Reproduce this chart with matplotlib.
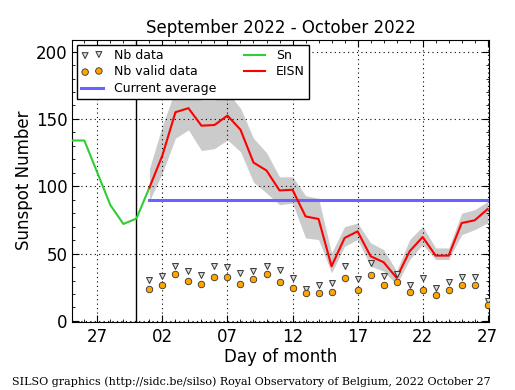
import matplotlib
matplotlib.use("Agg")
import matplotlib.pyplot as plt
from matplotlib.ticker import MultipleLocator, FixedLocator

# Day index: Oct d -> d, Sep d -> d - 30
sn_days = [-5, -4, -3, -2, -1, 0, 1]
sn_vals = [134, 134, 110, 86, 72, 76, 99]

eisn_days = list(range(1, 28))
eisn_vals = [99, 123, 155, 158, 145, 145.5, 152.5, 142, 117.6, 111.7, 96.9, 97.4,
             77.6, 75.7, 40.6, 61.6, 66.5, 48, 43.6, 32, 51.7, 62.3, 48.5, 48.5,
             72.7, 74.7, 83.1]
eisn_upper = [113, 145, 172, 175, 164, 164, 170, 158, 135.7, 125, 107, 107,
              93, 91, 50.5, 70, 72.7, 58, 53, 37, 60.4, 70.2, 54.2, 54.2,
              80, 82.6, 88.7]
eisn_lower = [89, 110, 135.7, 141.9, 126.5, 128, 134.4, 125.7, 103, 95, 86.3, 87.5,
              61.6, 60.4, 35.7, 55.4, 60.4, 40.6, 37, 27, 45.6, 56.7, 45.6, 45.6,
              64, 67.8, 72.7]
nb_data = [30.3, 33.2, 41, 37, 34.4, 41, 40, 35.7, 37, 41, 37.7, 32,
           24, 27, 27.8, 41, 31.2, 43, 33.2, 35, 27, 32, 24.6, 28.8,
           32.7, 32.7, 14.5]
nb_valid = [24, 26.5, 34.7, 29.5, 27.3, 32.5, 32.5, 27.3, 31, 34.7, 28.8, 24.3,
            21, 20.9, 21.3, 32, 23.3, 34, 27, 28.8, 21.3, 23.3, 19.6, 22.8,
            26.3, 26.3, 11.5]
current_avg = 90
avg_days = [1, 27]

xtick_pos = [-3, 2, 7, 12, 17, 22, 27]
xtick_labels = ["27", "02", "07", "12", "17", "22", "27"]
ytick_pos = [0, 50, 100, 150, 200]

fig = plt.figure(figsize=(5.15, 3.9), dpi=100)
ax = fig.add_axes([0.1398, 0.1744, 0.8097, 0.7243])

ax.fill_between(eisn_days, eisn_lower, eisn_upper, color="#cbcbcb", lw=0, zorder=1)
ax.plot(avg_days, [current_avg] * 2, color="#6666ff", lw=2.2, zorder=3, label="Current average")
ax.plot(sn_days, sn_vals, color="#33cc33", lw=1.5, zorder=4, label="Sn")
ax.plot(eisn_days, eisn_vals, color="red", lw=1.5, zorder=5, label="EISN")
ax.scatter(eisn_days, nb_data, marker="v", s=18, facecolor="#dddddd", edgecolor="#333333",
           linewidths=0.7, zorder=6, label="Nb data")
ax.scatter(eisn_days, nb_valid, marker="o", s=22, facecolor="orange", edgecolor="#333333",
           linewidths=0.6, zorder=6, label="Nb valid data")
ax.axvline(0, color="black", lw=1, zorder=2)

ax.set_xlim(-4.95, 27.1)
ax.set_ylim(-0.8, 209)
ax.xaxis.set_major_locator(FixedLocator(xtick_pos))
ax.set_xticklabels(xtick_labels)
ax.xaxis.set_minor_locator(MultipleLocator(1))
ax.yaxis.set_major_locator(FixedLocator(ytick_pos))
ax.yaxis.set_minor_locator(MultipleLocator(10))
ax.tick_params(which="both", direction="in", top=True, right=True, labelsize=12)
ax.tick_params(which="major", length=5)
ax.tick_params(axis="x", which="major", pad=4)
ax.tick_params(axis="y", which="major", pad=3)
ax.tick_params(which="minor", length=2.5)
ax.grid(True, which="major", color="black", linestyle=(0, (1, 3)), lw=0.8)
ax.set_axisbelow(False)

ax.set_title("September 2022 - October 2022", fontsize=12, pad=5)
ax.set_xlabel("Day of month", fontsize=12, labelpad=2)
ax.set_ylabel("Sunspot Number", fontsize=12, labelpad=2)

h, l = ax.get_legend_handles_labels()
order = [l.index(n) for n in ["Nb data", "Nb valid data", "Current average", "Sn", "EISN"]]
leg = ax.legend([h[i] for i in order], [l[i] for i in order], ncol=2, loc="upper left",
                fontsize=9, scatterpoints=2, fancybox=False, framealpha=1,
                edgecolor="black", borderaxespad=0.4, columnspacing=2.2,
                handlelength=1.7, handletextpad=0.9, labelspacing=0.28, borderpad=0.35)
leg.get_frame().set_linewidth(1)
leg.set_zorder(10)

fig.text(0.023, 0.012, "SILSO graphics (http://sidc.be/silso) Royal Observatory of Belgium, 2022 October 27",
         family="DejaVu Serif", fontsize=8)

fig.savefig("out.png", dpi=100)
